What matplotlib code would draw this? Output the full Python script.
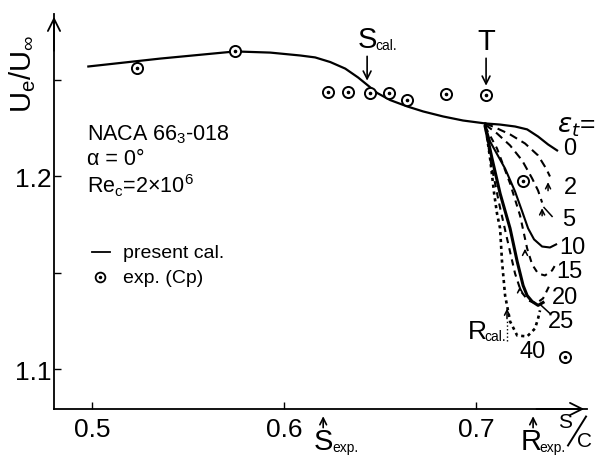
import matplotlib
matplotlib.use("Agg")
import matplotlib.pyplot as plt

plt.rcParams["font.family"] = ["Liberation Sans", "DejaVu Sans"]
plt.rcParams["mathtext.fontset"] = "dejavusans"

# present calculation (upstream part, common to all eps_t)
s_cal = [0.4979, 0.5354, 0.5745, 0.5927, 0.6083, 0.6161, 0.6240, 0.6318, 0.6385,
         0.6432, 0.6484, 0.6552, 0.6641, 0.6724, 0.6828, 0.6932, 0.7047]
u_cal = [1.2570, 1.2611, 1.2648, 1.2642, 1.2627, 1.2617, 1.2593, 1.2559, 1.2513,
         1.2475, 1.2433, 1.2396, 1.2363, 1.2337, 1.2311, 1.2290, 1.2275]

# experiment (Cp)
s_exp = [0.5234, 0.5745, 0.6230, 0.6330, 0.6448, 0.6547, 0.6640, 0.6844, 0.7052, 0.7245, 0.7464]
u_exp = [1.2560, 1.2648, 1.2440, 1.2440, 1.2435, 1.2435, 1.2394, 1.2425, 1.2420, 1.1974, 1.1067]

# downstream branches for each eps_t
s_e0 = [0.7047, 0.7125, 0.7203, 0.7266, 0.7323, 0.7375, 0.7422]
u_e0 = [1.2275, 1.2269, 1.2259, 1.2244, 1.2207, 1.2166, 1.2135]
s_e2 = [0.7047, 0.7099, 0.7177, 0.7255, 0.7323, 0.7365, 0.7385]
u_e2 = [1.2275, 1.2254, 1.2218, 1.2171, 1.2109, 1.2041, 1.2000]
s_e5 = [0.7047, 0.7109, 0.7177, 0.7240, 0.7292, 0.7323, 0.7344]
u_e5 = [1.2269, 1.2223, 1.2161, 1.2083, 1.1990, 1.1927, 1.1865]
s_e10 = [0.7047, 0.7073, 0.7151, 0.7203, 0.7240, 0.7271, 0.7302, 0.7344, 0.7385, 0.7417]
u_e10 = [1.2264, 1.2181, 1.2041, 1.1922, 1.1819, 1.1731, 1.1674, 1.1637, 1.1632, 1.1648]
s_e15 = [0.7047, 0.7109, 0.7177, 0.7229, 0.7266, 0.7292, 0.7323, 0.7359, 0.7396, 0.7417]
u_e15 = [1.2259, 1.2145, 1.1964, 1.1798, 1.1627, 1.1544, 1.1497, 1.1487, 1.1513, 1.1549]
s_e20 = [0.7047, 0.7083, 0.7125, 0.7177, 0.7214, 0.7245, 0.7266, 0.7292, 0.7323, 0.7349]
u_e20 = [1.2259, 1.2093, 1.1912, 1.1731, 1.1560, 1.1435, 1.1383, 1.1352, 1.1332, 1.1347]
s_e25 = [0.7047, 0.7078, 0.7120, 0.7167, 0.7203, 0.7234, 0.7271, 0.7313, 0.7349, 0.7380]
u_e25 = [1.2269, 1.2067, 1.1860, 1.1653, 1.1497, 1.1404, 1.1358, 1.1342, 1.1368, 1.1430]
s_e40 = [0.7047, 0.7073, 0.7094, 0.7109, 0.7125, 0.7135, 0.7151, 0.7177, 0.7214,
         0.7266, 0.7307, 0.7323, 0.7333]
u_e40 = [1.2275, 1.2093, 1.1912, 1.1808, 1.1731, 1.1560, 1.1384, 1.1249, 1.1176,
         1.1171, 1.1212, 1.1264, 1.1306]

eps_labels = ["0", "2", "5", "10", "15", "20", "25", "40"]
eps_lab_s = [0.7490, 0.7490, 0.7484, 0.7500, 0.7484, 0.7464, 0.7443, 0.7297]
eps_lab_u = [1.2145, 1.1948, 1.1782, 1.1637, 1.1508, 1.1378, 1.1249, 1.1093]

# small separation arrows (x, from u, to u)
sep_s = [0.7375, 0.7344, 0.7255, 0.7229, 0.7161]
sep_u0 = [1.1912, 1.1782, 1.1591, 1.1394, 1.1249]
sep_u1 = [1.1985, 1.1850, 1.1640, 1.1446, 1.1330]

xticks = [0.5, 0.6, 0.7]
yticks = [1.1, 1.15, 1.2, 1.25]
ytick_labels = ["1.1", "", "1.2", ""]

fig = plt.figure(figsize=(6.04, 4.64), dpi=100)
ax = fig.add_axes([54 / 604, 1 - 410 / 464, 533 / 604, 395 / 464])
ax.set_xlim(0.48, 0.7578)
ax.set_ylim(1.0795, 1.2842)

for sp in ["top", "right"]:
    ax.spines[sp].set_visible(False)
for sp in ["left", "bottom"]:
    ax.spines[sp].set_linewidth(1.3)

ax.set_xticks(xticks)
ax.set_xticklabels(["0.5", "0.6", "0.7"])
ax.set_yticks(yticks)
ax.set_yticklabels(ytick_labels)
ax.tick_params(direction="in", length=5, width=1.0, labelsize=19, pad=6)
ax.tick_params(axis="y", pad=2)

# axis arrows
ax.annotate("", xy=(0, 1.0), xytext=(0, 0.9), xycoords="axes fraction",
            arrowprops=dict(arrowstyle="->", lw=1.3, mutation_scale=22))
ax.annotate("", xy=(1.0, 0), xytext=(0.9, 0), xycoords="axes fraction",
            arrowprops=dict(arrowstyle="->", lw=1.3, mutation_scale=22))

k = "black"
ax.plot(s_cal, u_cal, color=k, lw=1.6)
ax.plot(s_e0, u_e0, color=k, lw=1.6)
ax.plot(s_e2, u_e2, color=k, lw=1.5, ls=(0, (4, 2.5)))
ax.plot(s_e5, u_e5, color=k, lw=1.5, ls=(0, (4, 2.5)))
ax.plot(s_e10, u_e10, color=k, lw=1.5)
ax.plot(s_e15, u_e15, color=k, lw=1.5, ls=(0, (3, 2.5)))
ax.plot(s_e20, u_e20, color=k, lw=2.2)
ax.plot(s_e25, u_e25, color=k, lw=1.5, ls=(0, (3, 2.5)))
ax.plot(s_e40, u_e40, color=k, lw=1.9, ls=(0, (1.2, 1.4)))

ax.plot(s_exp, u_exp, ls="none", marker="o", ms=8, mfc="white", mec=k, mew=1.4)
ax.plot(s_exp, u_exp, ls="none", marker="o", ms=1.6, color=k)

for s, u0, u1 in zip(sep_s, sep_u0, sep_u1):
    ax.annotate("", xy=(s, u1), xytext=(s, u0),
                arrowprops=dict(arrowstyle="->", lw=1.1, mutation_scale=9))
# dotted tail under the R cal. arrow
ax.plot([0.7161, 0.7161], [1.1145, 1.1249], color=k, lw=1.0, ls=":")

# labels of eps_t
ax.text(0.7422, 1.2262, r"$\varepsilon_t$=", fontsize=19, ha="left", va="center")
for lab, s, u in zip(eps_labels, eps_lab_s, eps_lab_u):
    ax.text(s, u, lab, fontsize=17, ha="center", va="center")
ax.plot([0.7354, 0.7396], [1.1839, 1.1793], color=k, lw=1.1)
ax.plot([0.7339, 0.7385], [1.1332, 1.1290], color=k, lw=1.1)

# S cal. and T marks
ax.text(0.6432, 1.2710, "S", fontsize=21, ha="center", va="center")
ax.text(0.6475, 1.2680, "cal.", fontsize=10, ha="left", va="center")
ax.annotate("", xy=(0.6432, 1.2482), xytext=(0.6432, 1.2637),
            arrowprops=dict(arrowstyle="->", lw=1.2, mutation_scale=14))
ax.text(0.7052, 1.2700, "T", fontsize=21, ha="center", va="center")
ax.annotate("", xy=(0.7052, 1.2456), xytext=(0.7052, 1.2627),
            arrowprops=dict(arrowstyle="->", lw=1.2, mutation_scale=14))

# R cal.
ax.text(0.7005, 1.1197, "R", fontsize=19, ha="center", va="center")
ax.text(0.7045, 1.1175, "cal.", fontsize=10, ha="left", va="center")

# S exp. / R exp. under the axis
ax.annotate("", xy=(0.6203, 1.0772), xytext=(0.6203, 1.0684),
            arrowprops=dict(arrowstyle="->", lw=1.2, mutation_scale=12),
            annotation_clip=False)
ax.text(0.6203, 1.0627, "S", fontsize=21, ha="center", va="center", clip_on=False)
ax.text(0.6250, 1.0600, "exp.", fontsize=10, ha="left", va="center", clip_on=False)
ax.annotate("", xy=(0.7297, 1.0772), xytext=(0.7297, 1.0684),
            arrowprops=dict(arrowstyle="->", lw=1.2, mutation_scale=12),
            annotation_clip=False)
ax.text(0.7286, 1.0627, "R", fontsize=21, ha="center", va="center", clip_on=False)
ax.text(0.7332, 1.0600, "exp.", fontsize=10, ha="left", va="center", clip_on=False)

# s/c with the slash drawn as a line
ax.text(0.7462, 1.0728, "S", fontsize=15, ha="center", va="center", clip_on=False)
ax.plot([0.7479, 0.7573], [1.0606, 1.0756], color=k, lw=1.4, clip_on=False)
ax.text(0.7567, 1.0630, "C", fontsize=15, ha="center", va="center", clip_on=False)

# y label
ax.text(-0.058, 0.85, r"$\mathregular{U_e/U_\infty}$", transform=ax.transAxes,
        rotation=90, fontsize=21, ha="center", va="center")

# case description
ax.text(0.4974, 1.2223, "NACA 66$\\mathregular{_3}$-018", fontsize=15.5, ha="left", va="center")
ax.text(0.4974, 1.2093, "α = 0°", fontsize=15.5, ha="left", va="center")
ax.text(0.4974, 1.1959, "Re$\\mathregular{_c}$=2×10$\\mathregular{^6}$", fontsize=15.5,
        ha="left", va="center")

# legend drawn by hand
ax.plot([0.071, 0.105], [0.397, 0.397], color=k, lw=1.3, transform=ax.transAxes)
ax.text(0.129, 0.397, "present cal.", fontsize=14, transform=ax.transAxes, va="center")
ax.plot([0.087], [0.334], ls="none", marker="o", ms=7, mfc="white", mec=k, mew=1.3,
        transform=ax.transAxes)
ax.plot([0.087], [0.334], ls="none", marker="o", ms=1.5, color=k, transform=ax.transAxes)
ax.text(0.129, 0.334, "exp. (Cp)", fontsize=14, transform=ax.transAxes, va="center")

fig.savefig("out.png", dpi=100)
